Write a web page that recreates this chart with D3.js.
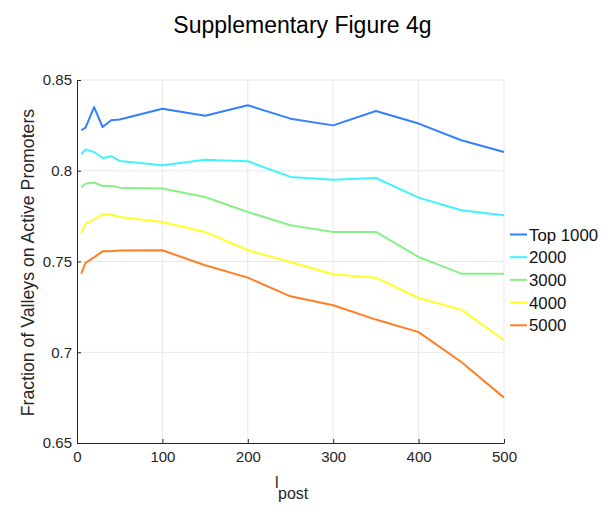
<!DOCTYPE html>
<html>
<head>
<meta charset="utf-8">
<script src="https://cdn.jsdelivr.net/npm/d3@7"></script>
<style>
  body { margin: 0; background: #fff; }
  svg { display: block; font-family: "Liberation Sans", Arial, Helvetica, sans-serif; }
</style>
</head>
<body>
<svg id="chart" width="613" height="508"></svg>
<script>
const xValues = [5, 10, 20, 30, 40, 50, 100, 150, 200, 250, 300, 350, 400, 450, 500];
const seriesNames = ["Top 1000", "2000", "3000", "4000", "5000"];
const seriesColors = ["#3380ff", "#3ff3ff", "#88f088", "#ffff26", "#ff7f26"];
const top1000 = [0.8223, 0.8238, 0.8351, 0.8241, 0.8278, 0.8282, 0.8342, 0.8303, 0.8361, 0.8287, 0.8250, 0.8329, 0.8260, 0.8168, 0.8103];
const s2000   = [0.8091, 0.8118, 0.8103, 0.8070, 0.8080, 0.8054, 0.8030, 0.8061, 0.8052, 0.7966, 0.7951, 0.7960, 0.7852, 0.7782, 0.7755];
const s3000   = [0.7907, 0.7929, 0.7935, 0.7916, 0.7916, 0.7907, 0.7902, 0.7855, 0.7773, 0.7700, 0.7663, 0.7663, 0.7525, 0.7433, 0.7433];
const s4000   = [0.7657, 0.7709, 0.7732, 0.7760, 0.7758, 0.7745, 0.7718, 0.7663, 0.7562, 0.7497, 0.7430, 0.7411, 0.7299, 0.7235, 0.7066];
const s5000   = [0.7433, 0.7492, 0.7523, 0.7556, 0.7556, 0.7560, 0.7562, 0.7479, 0.7411, 0.7308, 0.7259, 0.7180, 0.7111, 0.6946, 0.6750];
const seriesValues = [top1000, s2000, s3000, s4000, s5000];
const xTicks = [0, 100, 200, 300, 400, 500];
const yTicks = [0.65, 0.7, 0.75, 0.8, 0.85];
const titleText = "Supplementary Figure 4g";
const yLabelText = "Fraction of Valleys on Active Promoters";

const svg = d3.select("#chart");
const mLeft = 77, mRight = 504, mTop = 80, mBottom = 443;

const x = d3.scaleLinear().domain([0, 500]).range([mLeft, mRight]);
const y = d3.scaleLinear().domain([0.65, 0.85]).range([mBottom, mTop]);

// grid
const grid = svg.append("g").attr("stroke", "#e8e8e8").attr("stroke-width", 1);
xTicks.filter(t => t > 0).forEach(t => {
  grid.append("line").attr("x1", x(t)).attr("x2", x(t)).attr("y1", mTop).attr("y2", mBottom);
});
yTicks.filter(t => t > 0.65).forEach(t => {
  grid.append("line").attr("x1", mLeft).attr("x2", mRight).attr("y1", y(t)).attr("y2", y(t));
});

// axes
const xAxis = d3.axisBottom(x).tickValues(xTicks).tickSizeInner(-4).tickSizeOuter(0).tickPadding(8).tickFormat(d3.format("d"));
const yAxis = d3.axisLeft(y).tickValues(yTicks).tickSizeInner(-4).tickSizeOuter(0).tickPadding(5).tickFormat(d => d3.format("")(d));

const gx = svg.append("g").attr("transform", `translate(0,${mBottom})`).call(xAxis);
const gy = svg.append("g").attr("transform", `translate(${mLeft},0)`).call(yAxis);
[gx, gy].forEach(g => {
  g.select(".domain").attr("stroke", "#262626").attr("stroke-width", 1);
  g.selectAll(".tick line").attr("stroke", "#262626");
  g.selectAll(".tick text").attr("fill", "#262626").style("font-size", "15px").style("font-family", "'Liberation Sans', Arial, sans-serif");
});
gx.selectAll(".tick text").attr("dy", "0.72em");

// lines
const line = d3.line().x((d, i) => x(xValues[i])).y(d => y(d));
seriesValues.forEach((vals, k) => {
  svg.append("path").datum(vals)
    .attr("fill", "none")
    .attr("stroke", seriesColors[k])
    .attr("stroke-width", 2)
    .attr("stroke-linejoin", "round")
    .attr("d", line);
});

// title
svg.append("text").attr("x", 302.5).attr("y", 33).attr("text-anchor", "middle")
  .style("font-size", "23px").attr("fill", "#000").text(titleText);

// y label
svg.append("text").attr("transform", `translate(34,${(mTop + mBottom) / 2 + 1}) rotate(-90)`)
  .attr("text-anchor", "middle").style("font-size", "17.7px").attr("fill", "#262626").text(yLabelText);

// x label l_post
const xl = svg.append("text").attr("x", 275).attr("y", 488).style("font-size", "16px").attr("fill", "#262626");
xl.append("tspan").text("l");
xl.append("tspan").attr("x", 278).attr("y", 499).style("font-size", "16px").text("post");

// legend
const leg = svg.append("g");
seriesNames.forEach((name, k) => {
  const ly = 234.5 + k * 22.7;
  leg.append("line").attr("x1", 510).attr("x2", 527).attr("y1", ly).attr("y2", ly)
    .attr("stroke", seriesColors[k]).attr("stroke-width", 2);
  leg.append("text").attr("x", 529).attr("y", ly).attr("dy", "0.36em")
    .style("font-size", "16.8px").attr("fill", "#111").text(name);
});
</script>
</body>
</html>
